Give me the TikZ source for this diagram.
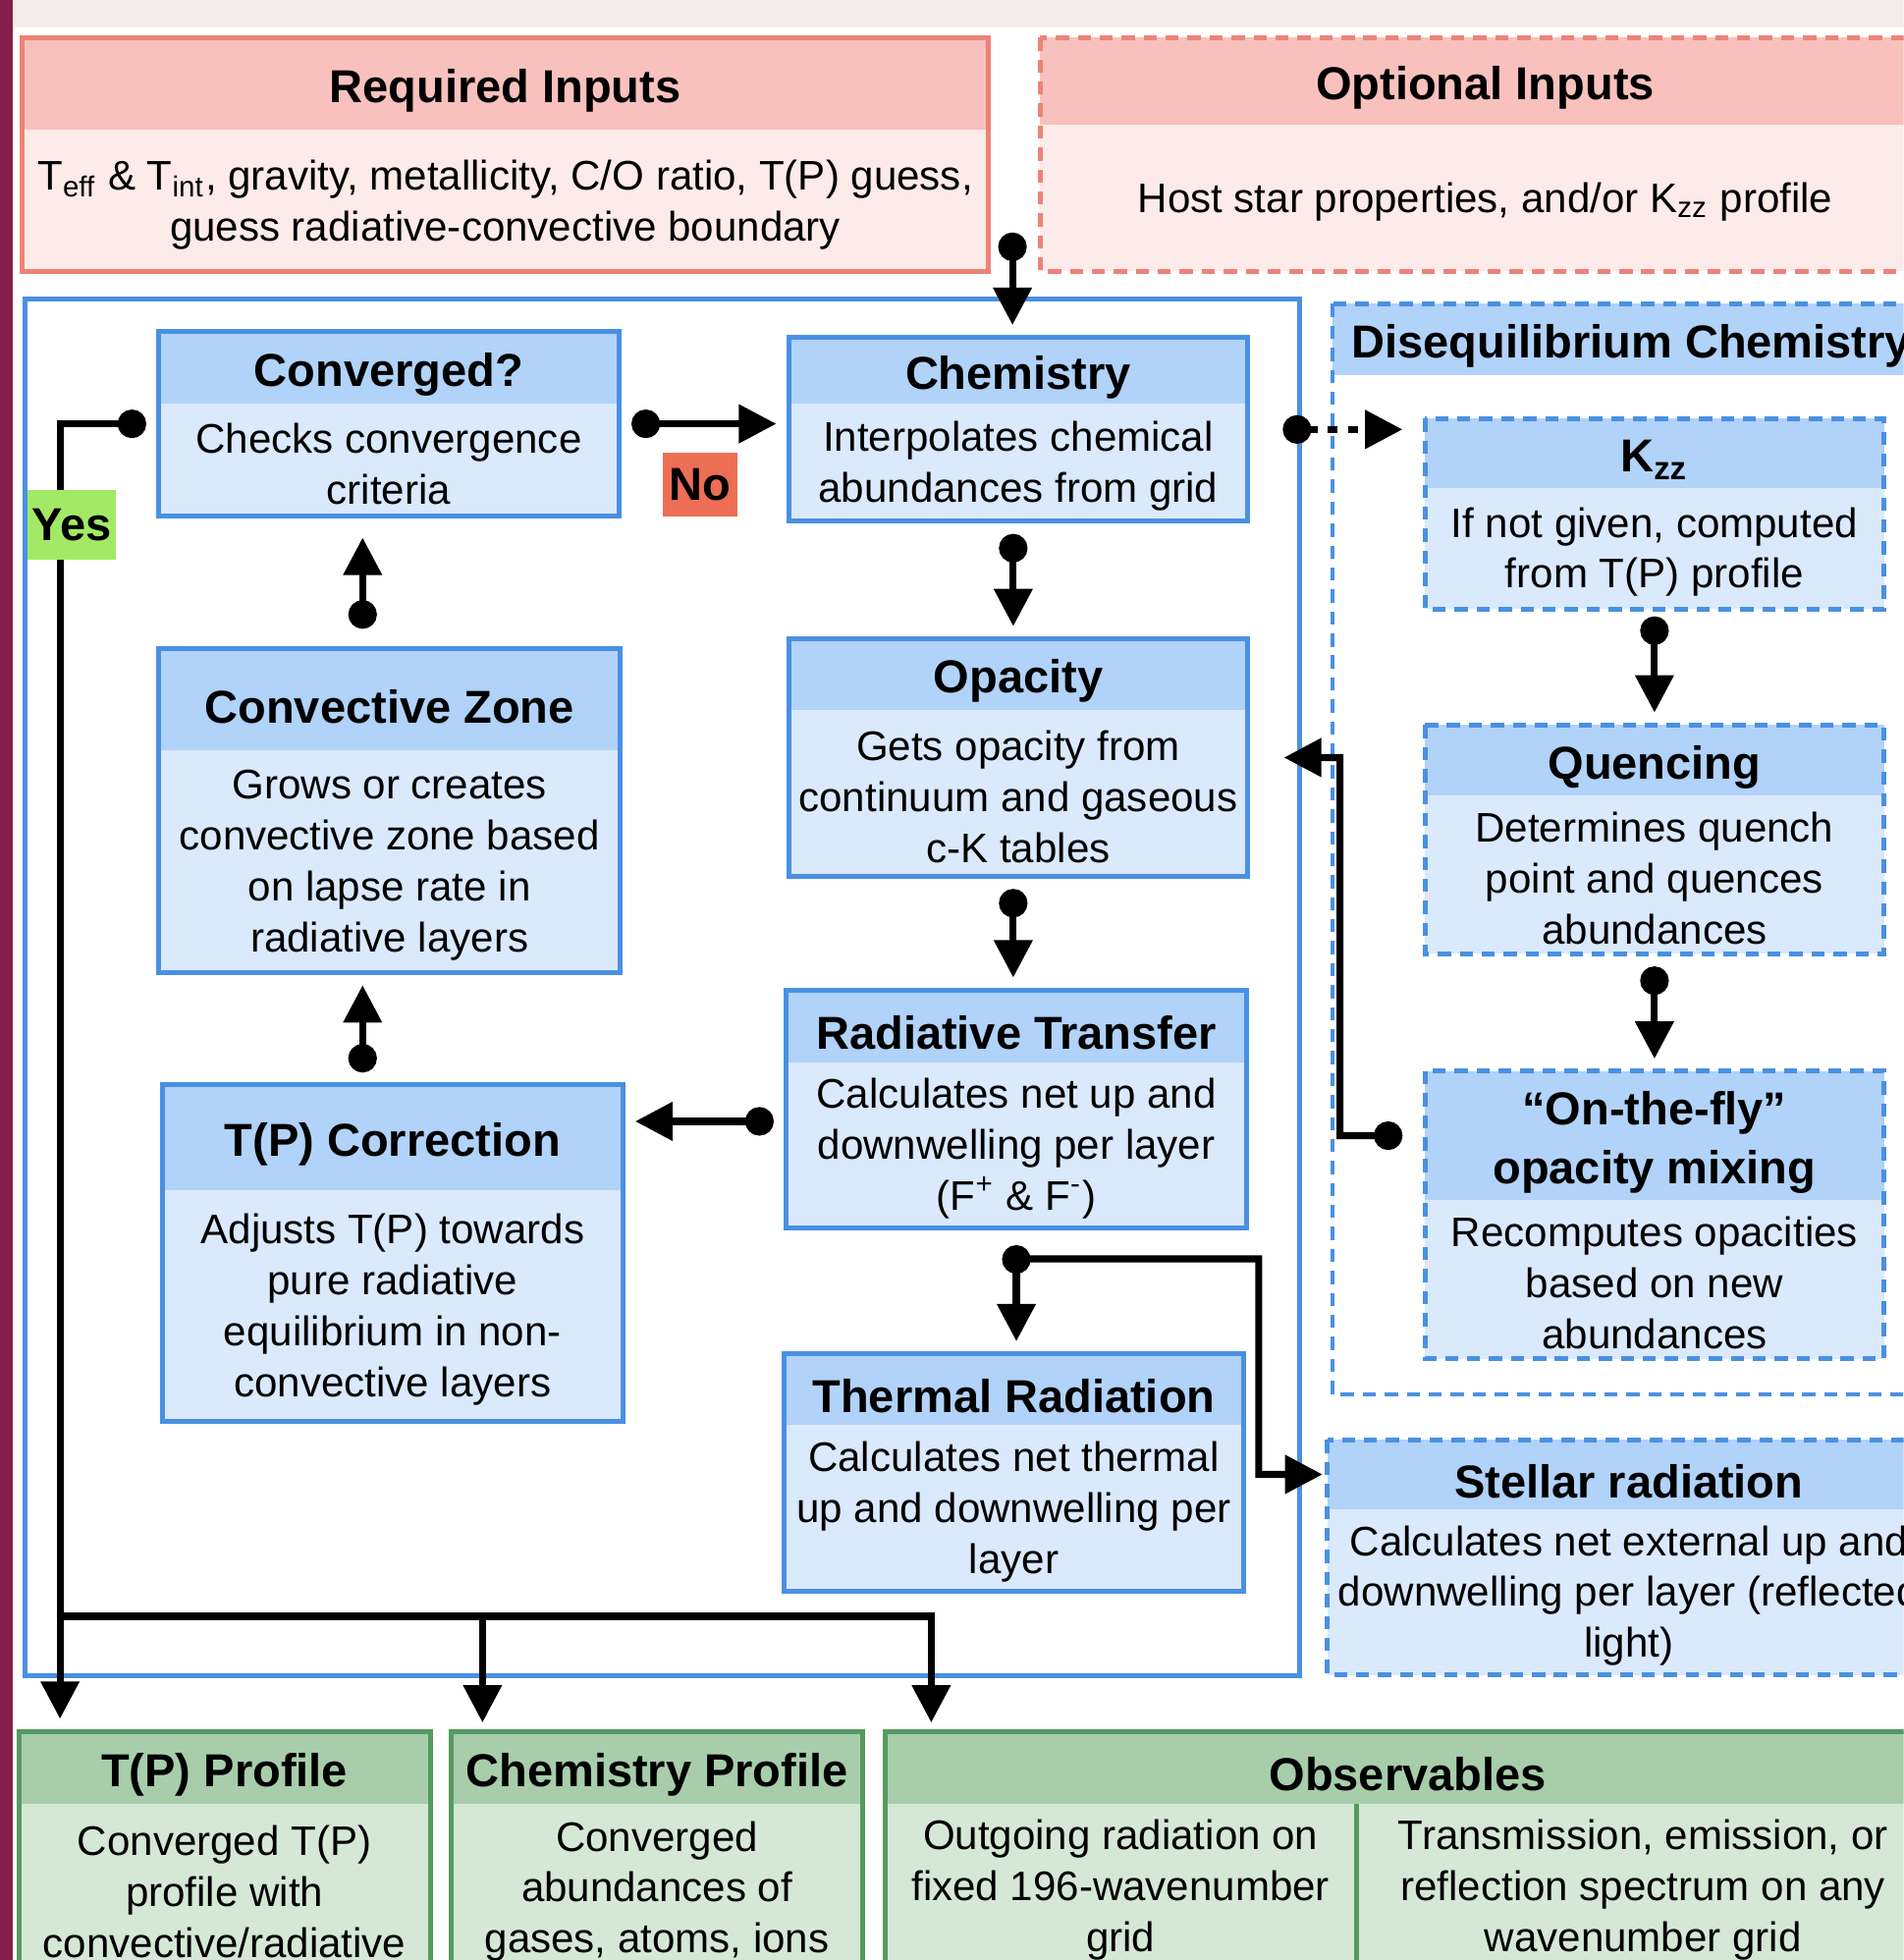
\documentclass[tikz,border=0pt]{standalone}
\usepackage{fontspec}
\setmainfont{Liberation Sans}
\usetikzlibrary{arrows.meta,fit,positioning}

\definecolor{skyline}{HTML}{4A90E2}
\definecolor{skyhd}{HTML}{B1D2F9}
\definecolor{skybd}{HTML}{DAE9FC}
\definecolor{roseline}{HTML}{EC8378}
\definecolor{rosehd}{HTML}{F8C1BD}
\definecolor{rosebd}{HTML}{FDEBE9}
\definecolor{leafline}{HTML}{559A61}
\definecolor{leafhd}{HTML}{A7CDAB}
\definecolor{leafbd}{HTML}{D5E8D6}
\definecolor{yesgreen}{HTML}{A2EA66}
\definecolor{nored}{HTML}{EC6E55}
\definecolor{strip}{HTML}{851E4B}
\definecolor{band}{HTML}{F4ECEC}

\tikzset{
  boxtitle/.style={inner sep=0pt, outer sep=0pt, align=center, font=\fontsize{10.5}{13.3}\selectfont\bfseries},
  boxtext/.style={inner sep=0pt, outer sep=0pt, align=center, font=\fontsize{9.4}{11.6}\selectfont},
  skyhead/.style={inner sep=0pt, outer sep=0pt, fill=skyhd},
  skybody/.style={inner sep=0pt, outer sep=0pt, fill=skybd},
  skyframe/.style={draw=skyline, line width=1.1pt},
  openhead/.style={skyhead},
  openbody/.style={inner sep=0pt, outer sep=0pt, fill=white},
  openframe/.style={skyframe},
  rosehead/.style={inner sep=0pt, outer sep=0pt, fill=rosehd},
  rosebody/.style={inner sep=0pt, outer sep=0pt, fill=rosebd},
  roseframe/.style={draw=roseline, line width=1.1pt},
  leafhead/.style={inner sep=0pt, outer sep=0pt, fill=leafhd},
  leafbody/.style={inner sep=0pt, outer sep=0pt, fill=leafbd},
  leafframe/.style={draw=leafline, line width=1.1pt},
  dashes/.style={dash pattern=on 3pt off 2pt},
  tag/.style={boxtitle, inner sep=0pt},
  link/.style={line width=1.6pt, arrows={Circle[length=6.5pt]-Triangle[length=8.5pt,width=8.5pt]}, shorten <=0.1cm, shorten >=0.1cm},
  linkdot/.style={link, dash pattern=on 2.2pt off 2.4pt},
  feed/.style={line width=1.6pt, -{Triangle[length=8.5pt,width=8.5pt]}, shorten >=0.07cm},
}

\newcommand{\panel}[9][]{%
  \node[#2head, minimum width=#5, minimum height=#6, anchor=north west] (#3-h) at #4 {};
  \node[#2body, minimum width=#5, minimum height=#7, anchor=north] (#3-b) at (#3-h.south) {};
  \draw[#2frame, #1] (#3-h.north west) rectangle (#3-b.south east);
  \node[boxtitle, yshift=-0.055cm] (#3-t) at (#3-h.center) {#8};
  \node[boxtext, yshift=-0.03cm] (#3-x) at (#3-b.center) {#9};
  \node[fit=(#3-h)(#3-b), inner sep=0pt, outer sep=0pt] (#3) {};
}

\begin{document}
\begin{tikzpicture}[x=0.01cm, y=-0.01cm]
\path[use as bounding box] (0,0) rectangle (1523,1568);
\clip (0,0) rectangle (1523,1568);
\fill[white] (0,0) rectangle (1523,1568);
\fill[band] (10,0) rectangle (1523,22);
\fill[strip] (0,0) rectangle (10,1568);

\panel{rose}{req}{(18,30)}{7.72cm}{0.74cm}{1.13cm}{Required Inputs}{T\textsubscript{eff} \& T\textsubscript{int}, gravity, metallicity, C/O ratio, T(P) guess,\\guess radiative-convective boundary}
\panel[dashes]{rose}{opt}{(832,30)}{7.12cm}{0.70cm}{1.17cm}{Optional Inputs}{Host star properties, and/or K\textsubscript{zz} profile}

\node[skyframe, minimum width=10.19cm, minimum height=11.01cm, anchor=north west, inner sep=0pt] (loop) at (18,237) {};

\panel{sky}{conv}{(127,265)}{3.68cm}{0.58cm}{0.90cm}{Converged?}{Checks convergence\\criteria}
\panel{sky}{chem}{(631,270)}{3.67cm}{0.53cm}{0.94cm}{Chemistry}{Interpolates chemical\\abundances from grid}
\panel{sky}{cz}{(127,519)}{3.69cm}{0.81cm}{1.78cm}{Convective Zone}{Grows or creates\\convective zone based\\on lapse rate in\\radiative layers}
\panel{sky}{opac}{(631,511)}{3.67cm}{0.57cm}{1.33cm}{Opacity}{Gets opacity from\\continuum and gaseous\\c-K tables}
\panel{sky}{rt}{(629,792)}{3.68cm}{0.58cm}{1.32cm}{Radiative Transfer}{Calculates net up and\\downwelling per layer\\(F\textsuperscript{+} \& F\textsuperscript{-})}
\panel{sky}{tpc}{(130,868)}{3.68cm}{0.84cm}{1.85cm}{T(P) Correction}{Adjusts T(P) towards\\pure radiative\\equilibrium in non-\\convective layers}
\panel{sky}{thr}{(627,1083)}{3.68cm}{0.57cm}{1.33cm}{Thermal Radiation}{Calculates net thermal\\up and downwelling per\\layer}

\panel[dashes]{open}{diseq}{(1066,243)}{4.78cm}{0.57cm}{8.15cm}{Disequilibrium Chemistry}{}
\panel[dashes]{sky}{kzz}{(1140,335)}{3.67cm}{0.55cm}{0.97cm}{K\textsubscript{zz}}{If not given, computed\\from T(P) profile}
\panel[dashes]{sky}{quen}{(1140,580)}{3.67cm}{0.56cm}{1.27cm}{Quencing}{Determines quench\\point and quences\\abundances}
\panel[dashes]{sky}{otf}{(1140,857)}{3.67cm}{1.03cm}{1.27cm}{“On-the-fly”\\opacity mixing}{Recomputes opacities\\based on new\\abundances}
\panel[dashes]{sky}{stel}{(1062,1152)}{4.82cm}{0.55cm}{1.33cm}{Stellar radiation}{Calculates net external up and\\downwelling per layer (reflected\\light)}

\panel{leaf}{tpp}{(15,1385)}{3.29cm}{0.58cm}{1.34cm}{T(P) Profile}{Converged T(P)\\profile with\\convective/radiative}
\panel{leaf}{chp}{(361,1385)}{3.29cm}{0.58cm}{1.34cm}{Chemistry Profile}{Converged\\abundances of\\gases, atoms, ions}
\panel{leaf}{obs}{(708,1385)}{8.36cm}{0.58cm}{1.34cm}{Observables}{}
\coordinate (split) at (1085,1443);
\draw[leafframe] (split) -- (split |- obs-b.south);
\node[boxtext] (outgo) at (896.5,1512) {Outgoing radiation on\\fixed 196-wavenumber\\grid};
\node[boxtext] (spec) at (1314.5,1512) {Transmission, emission, or\\reflection spectrum on any\\wavenumber grid};

\coordinate (inp) at (810,186);
\draw[link, shorten <=0pt] (inp) -- (inp |- chem.north);
\draw[link] (conv.east) -- (conv.east -| chem.west);
\node[tag, fill=nored, minimum width=0.60cm, minimum height=0.51cm] (no) at (560,387.5) {No};
\coordinate (trunk) at (48,1293);
\coordinate (chpin) at (386,1385);
\coordinate (obsin) at (745,1385);
\draw[link] (conv.west) -| (trunk) -- (trunk |- tpp.north);
\draw[feed] (trunk -| chpin) -- (chpin);
\draw[feed] (trunk) -| (obsin);
\node[tag, fill=yesgreen, minimum width=0.71cm, minimum height=0.56cm] (yes) at (57.5,420) {Yes};
\draw[link, shorten <=0.16cm, shorten >=0.17cm] ([xshift=-0.215cm]cz.north) -- ([xshift=-0.215cm]cz.north |- conv.south);
\draw[link] ([xshift=-0.24cm]tpc.north) -- ([xshift=-0.24cm]tpc.north |- cz.south);
\draw[link] ([yshift=-0.1cm]rt.west) -- ([yshift=-0.1cm]rt.west -| tpc.east);
\draw[link] ([xshift=-0.04cm]chem.south) -- ([xshift=-0.04cm]chem.south |- opac.north);
\draw[link] ([xshift=-0.04cm]opac.south) -- ([xshift=-0.04cm]opac.south |- rt.north);
\draw[link, shorten <=0.14cm] (rt.south) -- (rt.south |- thr.north);
\coordinate (turn) at (1007,1179.5);
\draw[feed, shorten >=0.04cm] ([yshift=-0.25cm]rt.south) -| (turn) -- (stel-h.west);
\draw[linkdot, shorten <=0.28cm, shorten >=0.18cm] (chem.east) -- (chem.east -| kzz.west);
\draw[link, shorten <=0.06cm] (kzz.south) -- (quen.north);
\draw[link] (quen.south) -- (otf.north);
\coordinate (back) at (1072,606);
\draw[link, shorten <=0.18cm, shorten >=0.29cm] (otf-h.west) -| (back) -- (opac.east);
\end{tikzpicture}
\end{document}
